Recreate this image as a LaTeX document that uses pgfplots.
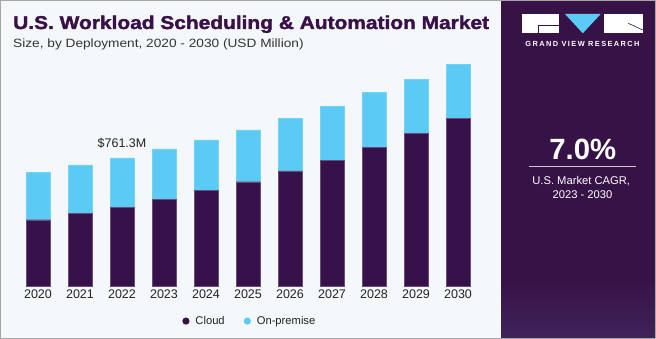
\documentclass[border=0pt]{standalone}
\usepackage{fontspec}
\setmainfont{Liberation Sans}
\newfontfamily\heavyfont[FakeBold=1.8]{Liberation Sans Bold}
\usepackage{pgfplots}
\pgfplotsset{compat=1.18}
\definecolor{cloudc}{HTML}{37114A}
\definecolor{onpc}{HTML}{5BCAF5}
\definecolor{panel}{HTML}{371247}
\definecolor{panelb}{HTML}{3F2359}
\definecolor{bgc}{HTML}{F4F8FB}
\definecolor{titlec}{HTML}{3A1049}
\definecolor{subc}{HTML}{333333}
\definecolor{tickc}{HTML}{222222}
\begin{document}
\begin{tikzpicture}
\useasboundingbox (0pt,0pt) rectangle (656pt,339pt);
\fill[bgc] (0pt,0pt) rectangle (656pt,339pt);
\fill[panel] (501pt,0pt) rectangle (656pt,339pt);
\shade[top color=panel, bottom color=panelb] (501pt,0pt) rectangle (656pt,60pt);
\draw[gray!70, line width=1pt] (0.5pt,0.5pt) rectangle (655.5pt,338.5pt);
% title
\node[anchor=base west, inner sep=0, text=titlec] at (13pt,310pt) {\scalebox{1.13}[1]{\heavyfont\fontsize{18.5}{20}\selectfont U.S. Workload Scheduling \& Automation Market}};
\node[anchor=base west, inner sep=0, text=subc] at (13pt,291.8pt) {\scalebox{1.14}[1]{\fontsize{12}{14}\selectfont Size, by Deployment, 2020 - 2030 (USD Million)}};
% logo
\fill[white] (522.3pt,305.7pt) rectangle (559.3pt,325pt);
\draw[panel, line width=0.6pt] (538.3pt,305.7pt) -- (538.3pt,314pt) -- (559.3pt,314pt);
\fill[onpc] (565pt,325pt) -- (600.7pt,325pt) -- (582.8pt,305.7pt) -- cycle;
\fill[white] (604.3pt,305.7pt) rectangle (642.7pt,325pt);
\draw[panel, line width=0.6pt] (628.3pt,315.7pt) -- (642.7pt,309pt);
\node[anchor=base, inner sep=0, text=white] at (582.5pt,292pt) {\fontsize{7.4}{9}\selectfont\bfseries\addfontfeatures{LetterSpace=19}GRAND VIEW RESEARCH};
\node[anchor=base, inner sep=0, text=white] at (582.8pt,179.7pt) {\fontsize{29.3}{32}\selectfont\bfseries 7.0\%};
\draw[white!75!panel, line width=1pt] (529pt,172pt) -- (635.7pt,172pt);
\node[anchor=base, inner sep=0, text=white] at (581.2pt,154.7pt) {\fontsize{11.2}{13}\selectfont U.S. Market CAGR,};
\node[anchor=base, inner sep=0, text=white] at (582.5pt,140pt) {\fontsize{11.2}{13}\selectfont 2023 - 2030};
\begin{axis}[
  at={(38pt,53pt)}, anchor=origin,
  scale only axis, width=462pt, height=235.4pt,
  xmin=-0.5, xmax=10.5, ymin=0, ymax=1400,
  ybar stacked, bar width=24pt,
  axis line style={draw=none},
  ytick=\empty,
  xtick={0,...,10},
  xticklabels={2020,2021,2022,2023,2024,2025,2026,2027,2028,2029,2030},
  major tick length=0pt,
  xticklabel style={font=\fontsize{12.5}{14}\selectfont, text=tickc},
  legend columns=2,
  legend style={at={(axis description cs:0.504,-0.149)}, anchor=center, draw=none, fill=none,
    font=\fontsize{11.2}{13}\selectfont, text=tickc,
    /tikz/every even column/.append style={column sep=17pt}},
  clip=false,
]
\addplot+[fill=cloudc, draw=cloudc!75!white, line width=0.4pt, legend image code/.code={\fill[cloudc, draw=none] (0pt,0pt) circle (3.6pt); \path[draw=none, fill=none] (-3.6pt,-1pt) rectangle (7.5pt,1pt);}] coordinates {
(0,394) (1,430) (2,468.3) (3,516) (4,567) (5,620) (6,684) (7,749) (8,825) (9,906) (10,997)};
\addlegendentry{Cloud}
\addplot+[fill=onpc, draw=onpc!85!white, line width=0.4pt, legend image code/.code={\fill[onpc, draw=none] (0pt,0pt) circle (3.6pt); \path[draw=none, fill=none] (-3.6pt,-1pt) rectangle (7.5pt,1pt);}] coordinates {
(0,280) (1,290) (2,293) (3,299) (4,302) (5,309) (6,315) (7,321) (8,325) (9,325) (10,321)};
\addlegendentry{On-premise}
\node[anchor=base, inner sep=0, text=tickc, font=\fontsize{12.5}{14}\selectfont] at (axis cs:2,761.3) [yshift=10.7pt] {\$761.3M};
\end{axis}
\end{tikzpicture}
\end{document}
